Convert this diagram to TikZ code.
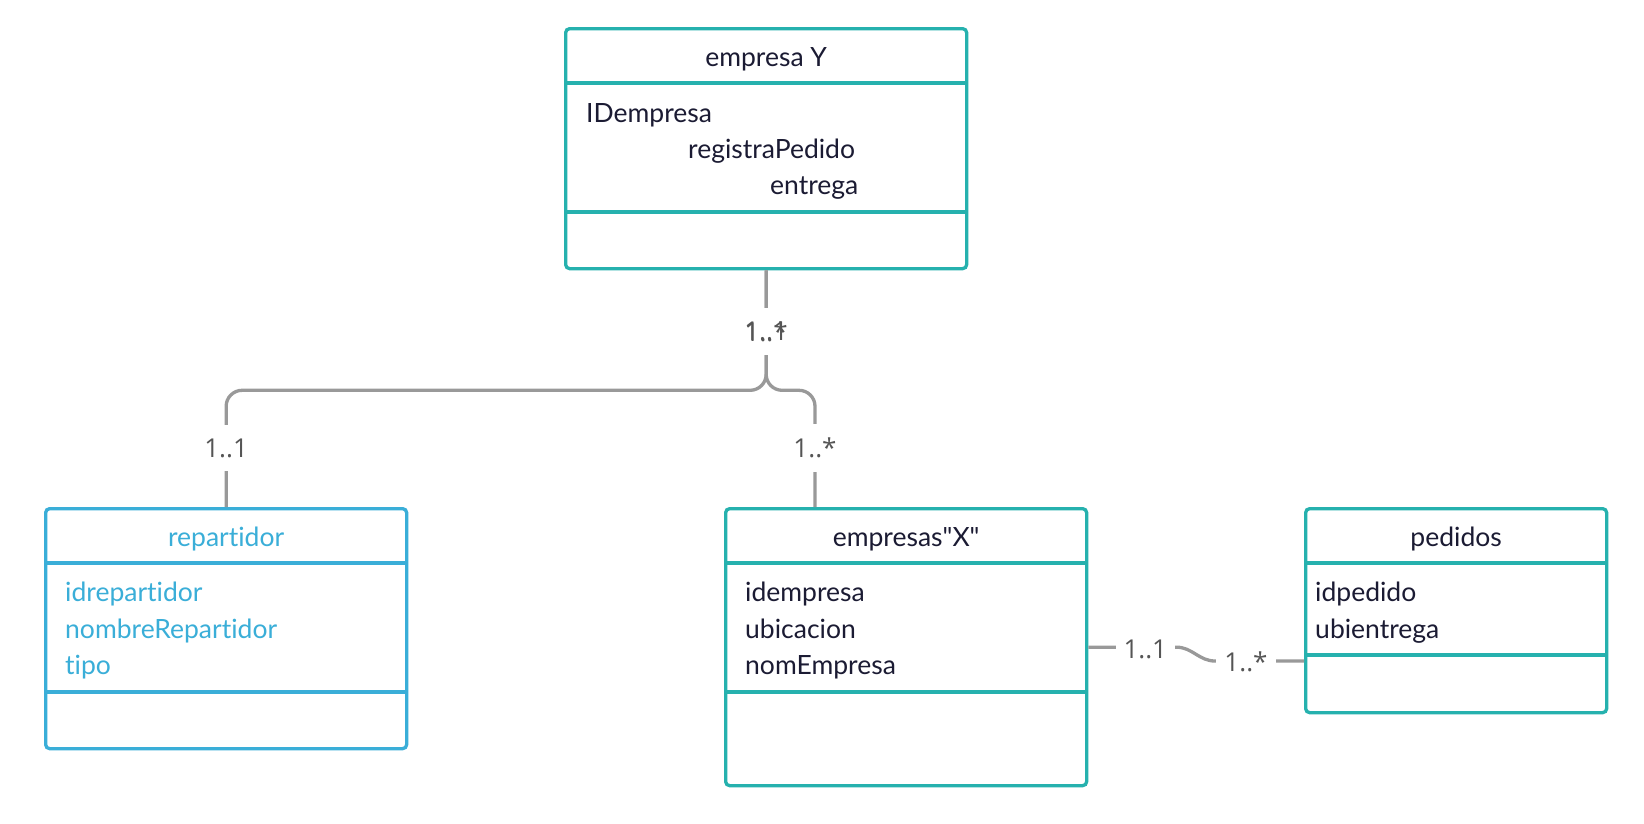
\documentclass[tikz,border=0pt]{standalone}
\usepackage{fontspec}
\setmainfont{Lato}[Ligatures={TeXOff,NoCommon}]
\newfontfamily\lblfont{Open Sans}
\usetikzlibrary{calc}
\definecolor{teal1}{HTML}{26B1AE}
\definecolor{blue1}{HTML}{3AAED8}
\definecolor{lgray}{HTML}{999999}
\definecolor{lbl}{HTML}{555555}
\definecolor{ink}{HTML}{1B1B33}
\begin{document}
\begin{tikzpicture}[x=1pt,y=-1pt,
  umlbox/.style={draw=#1, line width=3.3pt, rounded corners=4pt, anchor=north west, inner sep=0pt},
  divider/.style={line width=3.3pt},
  txt/.style={font=\fontsize{26.5}{30}\selectfont, text=ink, inner sep=0pt, anchor=base west},
  ttl/.style={txt, anchor=base},
  conn/.style={draw=lgray, line width=3.3pt, rounded corners=16pt},
  mult/.style={font=\lblfont\fontsize{26}{30}\selectfont, text=lbl, fill=white, inner xsep=8pt, inner ysep=14pt},
  multover/.style={font=\lblfont\fontsize{26}{30}\selectfont, text=lbl, inner xsep=8pt, inner ysep=14pt}
]
\useasboundingbox (0,0) rectangle (1644,823);
\fill[white] (0,0) rectangle (1644,823);

% boxes
\node[umlbox=teal1, minimum width=401pt, minimum height=240pt] (ey) at (564,27) {};
\node[umlbox=blue1, minimum width=361pt, minimum height=240pt] (rep) at (44,507) {};
\node[umlbox=teal1, minimum width=361pt, minimum height=277pt] (ex) at (724,507) {};
\node[umlbox=teal1, minimum width=301pt, minimum height=204pt] (ped) at (1304,507) {};

% dividers
\draw[teal1, divider] ($(ey.north west)+(0,56)$) -- ($(ey.north east)+(0,56)$);
\draw[teal1, divider] ($(ey.north west)+(0,185)$) -- ($(ey.north east)+(0,185)$);
\draw[blue1, divider] ($(rep.north west)+(0,56)$) -- ($(rep.north east)+(0,56)$);
\draw[blue1, divider] ($(rep.north west)+(0,185)$) -- ($(rep.north east)+(0,185)$);
\draw[teal1, divider] ($(ex.north west)+(0,56)$) -- ($(ex.north east)+(0,56)$);
\draw[teal1, divider] ($(ex.north west)+(0,185)$) -- ($(ex.north east)+(0,185)$);
\draw[teal1, divider] ($(ped.north west)+(0,56)$) -- ($(ped.north east)+(0,56)$);
\draw[teal1, divider] ($(ped.north west)+(0,148)$) -- ($(ped.north east)+(0,148)$);

% texts
\node[ttl] (eyt) at ($(ey.north)+(0,39)$) {empresa Y};
\node[txt] (ey1) at (586,122) {IDempresa};
\node[txt] (ey2) at (688,158) {registraPedido};
\node[txt] (ey3) at (770,194) {entrega};

\node[ttl, text=blue1] (rept) at ($(rep.north)+(0,39)$) {repartidor};
\node[txt, text=blue1] (rep1) at (65,601) {idrepartidor};
\node[txt, text=blue1] (rep2) at (65,638) {nombreRepartidor};
\node[txt, text=blue1] (rep3) at (65,674) {tipo};

\node[ttl] (ext) at ($(ex.north)+(0,39)$) {empresas"X"};
\node[txt] (ex1) at (745,601) {idempresa};
\node[txt] (ex2) at (745,638) {ubicacion};
\node[txt] (ex3) at (745,674) {nomEmpresa};

\node[ttl] (pedt) at ($(ped.north)+(0,39)$) {pedidos};
\node[txt] (ped1) at (1315,601) {idpedido};
\node[txt] (ped2) at (1315,638) {ubientrega};

% connectors
\coordinate (jn) at ($(ey.south)+(0,120)$);
\coordinate (exj) at ($(ex.north west)+(91,0)$);
\draw[conn] (ey.south) -- (jn) -| (rep.north);
\draw[conn] (ey.south) -- (jn) -| (exj);

\coordinate (pl) at ($(ped.north west)+(0,154)$);
\draw[conn, rounded corners=0pt] (ex.east) -- ++(88,0) coordinate (c1)
  to[out=0,in=180] ($(pl)+(-89,0)$) coordinate (c2) -- (pl);

% multiplicities
\node[mult] (m1) at ($(ey.south)+(0,61)$) {1..1};
\node[multover] (m1b) at (m1) {1..*};
\node[mult] (m2) at ($(rep.north)+(0,-59)$) {1..1};
\node[mult] (m3) at ($(exj)+(0,-59)$) {1..*};
\node[mult] (m4) at ($(ex.east)+(57,2)$) {1..1};
\node[mult] (m5) at ($(pl)+(-58,1)$) {1..*};
\end{tikzpicture}
\end{document}
